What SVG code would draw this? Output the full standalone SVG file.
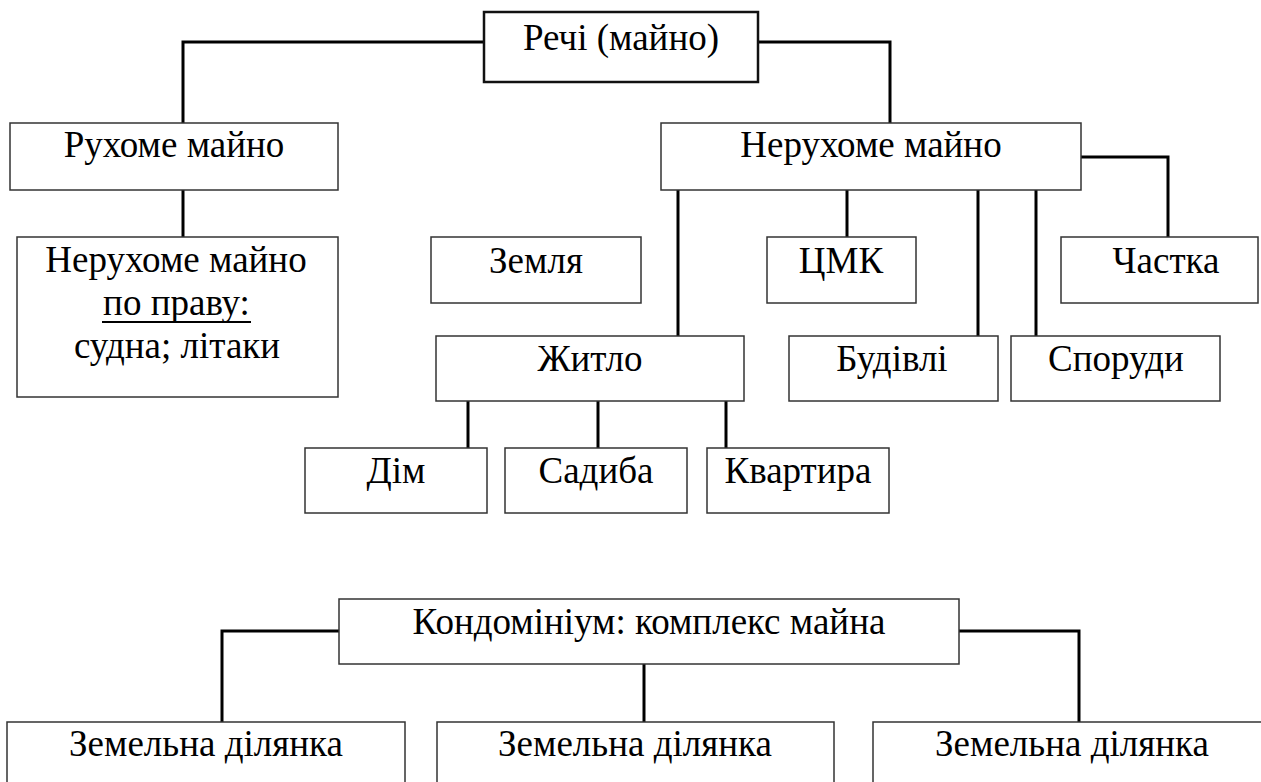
<svg xmlns="http://www.w3.org/2000/svg" width="1261" height="782" viewBox="0 0 1261 782">
<style>
.box{fill:#fff;stroke:#333;stroke-width:1.5}
.main{fill:#fff;stroke:#111;stroke-width:2.5}
.t{font-family:"Liberation Serif","Times New Roman",serif;font-size:37px;fill:#000;text-anchor:middle}
.c{fill:none;stroke:#000;stroke-width:3}
</style>
<rect width="1261" height="782" fill="#fff"/>
<g id="connectors">
<polyline class="c" points="484,42 183,42 183,123"/>
<polyline class="c" points="758,42 890,42 890,123"/>
<line class="c" x1="183" y1="190" x2="183" y2="237"/>
<polyline class="c" points="1081,157 1168,157 1168,237"/>
<line class="c" x1="678" y1="190" x2="678" y2="336"/>
<line class="c" x1="847" y1="190" x2="847" y2="237"/>
<line class="c" x1="978" y1="190" x2="978" y2="340"/>
<line class="c" x1="1036" y1="190" x2="1036" y2="336"/>
<line class="c" x1="468" y1="401" x2="468" y2="448"/>
<line class="c" x1="598" y1="401" x2="598" y2="448"/>
<line class="c" x1="726" y1="401" x2="726" y2="448"/>
<polyline class="c" points="339,631 222,631 222,722"/>
<line class="c" x1="644" y1="664" x2="644" y2="722"/>
<polyline class="c" points="959,631 1079,631 1079,722"/>
</g>
<g id="rechi"><rect class="main" x="484" y="12" width="274" height="70"/><text class="t" x="621" y="50">Речі (майно)</text></g>
<g id="rukhome"><rect class="box" x="10" y="123" width="328" height="67"/><text class="t" x="174" y="157">Рухоме майно</text></g>
<g id="nerukhome"><rect class="box" x="661" y="123" width="420" height="67"/><text class="t" x="871" y="157">Нерухоме майно</text></g>
<g id="po-pravu"><rect class="box" x="17" y="237" width="321" height="160"/>
<text class="t" x="176" y="272">Нерухоме майно</text>
<text class="t" x="176.5" y="315">по праву:</text>
<line x1="102" y1="322" x2="251" y2="322" stroke="#000" stroke-width="2"/>
<text class="t" x="177" y="358">судна; літаки</text></g>
<g id="zemlia"><rect class="box" x="431" y="237" width="210" height="66"/><text class="t" x="536" y="273">Земля</text></g>
<g id="tsmk"><rect class="box" x="767" y="237" width="149" height="66"/><text class="t" x="841" y="273">ЦМК</text></g>
<g id="chastka"><rect class="box" x="1061" y="237" width="197" height="66"/><text class="t" x="1166" y="273">Частка</text></g>
<g id="zhytlo"><rect class="box" x="436" y="336" width="308" height="65"/><text class="t" x="590" y="371">Житло</text></g>
<g id="budivli"><rect class="box" x="789" y="336" width="209" height="65"/><text class="t" x="892" y="371">Будівлі</text></g>
<g id="sporudy"><rect class="box" x="1011" y="336" width="209" height="65"/><text class="t" x="1116" y="371">Споруди</text></g>
<g id="dim"><rect class="box" x="305" y="448" width="182" height="65"/><text class="t" x="396" y="483">Дім</text></g>
<g id="sadyba"><rect class="box" x="505" y="448" width="182" height="65"/><text class="t" x="596" y="483">Садиба</text></g>
<g id="kvartyra"><rect class="box" x="707" y="448" width="182" height="65"/><text class="t" x="798" y="483">Квартира</text></g>
<g id="kondominium"><rect class="box" x="339" y="599" width="620" height="65"/><text class="t" x="649" y="634">Кондомініум: комплекс майна</text></g>
<g id="zemelna1"><rect class="box" x="7" y="722" width="398" height="80"/><text class="t" x="206" y="756">Земельна ділянка</text></g>
<g id="zemelna2"><rect class="box" x="437" y="722" width="397" height="80"/><text class="t" x="635" y="756">Земельна ділянка</text></g>
<g id="zemelna3"><rect class="box" x="873" y="722" width="400" height="80"/><text class="t" x="1072" y="756">Земельна ділянка</text></g>
</svg>
